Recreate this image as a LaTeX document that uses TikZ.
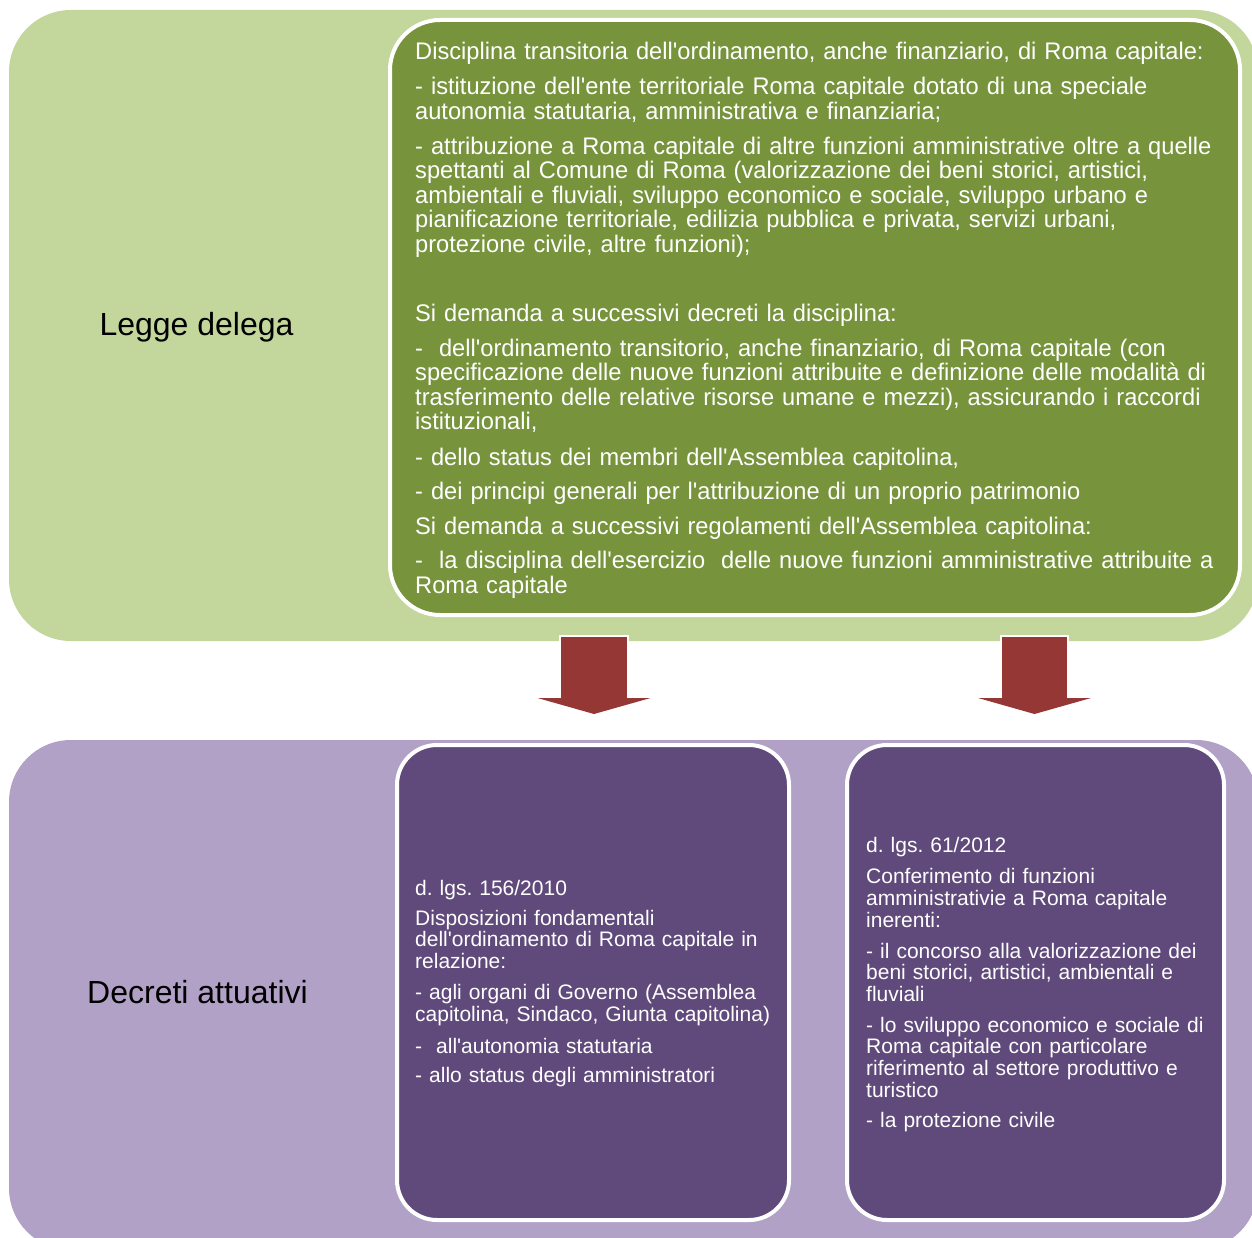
\documentclass[tikz,border=0pt]{standalone}
\usepackage{fontspec}
\newfontfamily\arialf{Liberation Sans}
\newfontfamily\arialn{Liberation Sans}[FakeStretch=0.985]
\definecolor{glight}{HTML}{C3D69B}
\definecolor{gdark}{HTML}{77933C}
\definecolor{plight}{HTML}{B2A1C7}
\definecolor{pdark}{HTML}{604A7B}
\definecolor{arrowred}{HTML}{953735}
\frenchspacing
\begin{document}
\begin{tikzpicture}[x=1pt,y=-1pt,
  bgbox/.style={rectangle, rounded corners=62pt, inner sep=0pt, draw=none},
  inbox/.style={rectangle, rounded corners=#1, inner sep=0pt, draw=white, line width=4pt},
  bigtext/.style={font=\arialf\fontsize{32}{36}\selectfont, text=black, anchor=base, inner sep=0pt},
  gtext/.style={font=\arialn\fontsize{24}{24.5}\selectfont, text=white, anchor=base west,
    inner sep=0pt, align=left, text width=840pt},
  ptext/.style={font=\arialf\fontsize{21}{21.8}\selectfont, text=white, anchor=base west,
    inner sep=0pt, align=left, text width=400pt},
  blockarrow/.style={fill=arrowred, draw=none},
  arrowedge/.style={draw=white, line width=1.5pt, line join=miter}]
\useasboundingbox (0,0) rectangle (1252,1238);
\fill[white] (0,0) rectangle (1252,1238);

% background bands
\node[bgbox, fill=glight, minimum width=1249pt, minimum height=631pt] (gback) at (633.5,325.5) {};
\node[bgbox, fill=plight, minimum width=1249pt, minimum height=510pt] (pback) at (633.5,995) {};

% inner boxes
\node[inbox=50pt, fill=gdark, minimum width=850pt, minimum height=595pt] (gbox) at (815,317.5) {};
\node[inbox=40pt, fill=pdark, minimum width=392pt, minimum height=475pt] (lbox) at (593,982.5) {};
\node[inbox=40pt, fill=pdark, minimum width=377pt, minimum height=475pt] (rbox) at (1035.5,982.5) {};

% block arrows
\coordinate (a1) at (594,636);
\coordinate (a2) at (1034.5,636);
\path[blockarrow] (a1) ++(-34,0) -- ++(68,0) -- ++(0,62) -- ++(22.5,0) -- ++(-56.5,16)
  -- ++(-56.5,-16) -- ++(22.5,0) -- cycle;
\path[arrowedge] (a1) ++(-34,62) -- ++(0,-62) -- ++(68,0) -- ++(0,62);
\path[blockarrow] (a2) ++(-33.5,0) -- ++(67,0) -- ++(0,62) -- ++(23,0) -- ++(-56.5,16)
  -- ++(-56.5,-16) -- ++(23,0) -- cycle;
\path[arrowedge] (a2) ++(-33.5,62) -- ++(0,-62) -- ++(67,0) -- ++(0,62);

% labels
\node[bigtext] (legge) at (196.5,335) {Legge delega};
\node[bigtext] (decreti) at (197.5,1003) {Decreti attuativi};

% green box text
\node[gtext] (g1) at (415,60) {Disciplina transitoria dell'ordinamento, anche finanziario, di Roma capitale:};
\node[gtext] (g2) at (415,95) {- istituzione dell'ente territoriale Roma capitale dotato di una speciale\\autonomia statutaria, amministrativa e finanziaria;};
\node[gtext] (g3) at (415,154.5) {- attribuzione a Roma capitale di altre funzioni amministrative oltre a quelle\\spettanti al Comune di Roma (valorizzazione dei beni storici, artistici,\\ambientali e fluviali, sviluppo economico e sociale, sviluppo urbano e\\pianificazione territoriale, edilizia pubblica e privata, servizi urbani,\\protezione civile, altre funzioni);};
\node[gtext] (g4) at (415,321.5) {Si demanda a successivi decreti la disciplina:};
\node[gtext] (g5) at (415,356) {-\ \ dell'ordinamento transitorio, anche finanziario, di Roma capitale (con\\specificazione delle nuove funzioni attribuite e definizione delle modalità di\\trasferimento delle relative risorse umane e mezzi), assicurando i raccordi\\istituzionali,};
\node[gtext] (g6) at (415,465) {- dello status dei membri dell'Assemblea capitolina,};
\node[gtext] (g7) at (415,499.5) {- dei principi generali per l'attribuzione di un proprio patrimonio};
\node[gtext] (g8) at (415,534) {Si demanda a successivi regolamenti dell'Assemblea capitolina:};
\node[gtext] (g9) at (415,568.5) {-\ \ la disciplina dell'esercizio\ \ delle nuove funzioni amministrative attribuite a\\Roma capitale};

% left purple box text
\node[ptext] (l1) at (415,895) {d. lgs. 156/2010};
\node[ptext] (l2) at (415,925) {Disposizioni fondamentali\\dell'ordinamento di Roma capitale in\\relazione:};
\node[ptext] (l3) at (415,999.5) {- agli organi di Governo (Assemblea\\capitolina, Sindaco, Giunta capitolina)};
\node[ptext] (l4) at (415,1053) {-\ \ all'autonomia statutaria};
\node[ptext] (l5) at (415,1082.5) {- allo status degli amministratori};

% right purple box text
\node[ptext] (r1) at (866,852) {d. lgs. 61/2012};
\node[ptext] (r2) at (866,883.5) {Conferimento di funzioni\\amministrativie a Roma capitale\\inerenti:};
\node[ptext] (r3) at (866,958) {- il concorso alla valorizzazione dei\\beni storici, artistici, ambientali e\\fluviali};
\node[ptext] (r4) at (866,1032) {- lo sviluppo economico e sociale di\\Roma capitale con particolare\\riferimento al settore produttivo e\\turistico};
\node[ptext] (r5) at (866,1127) {- la protezione civile};
\end{tikzpicture}
\end{document}
